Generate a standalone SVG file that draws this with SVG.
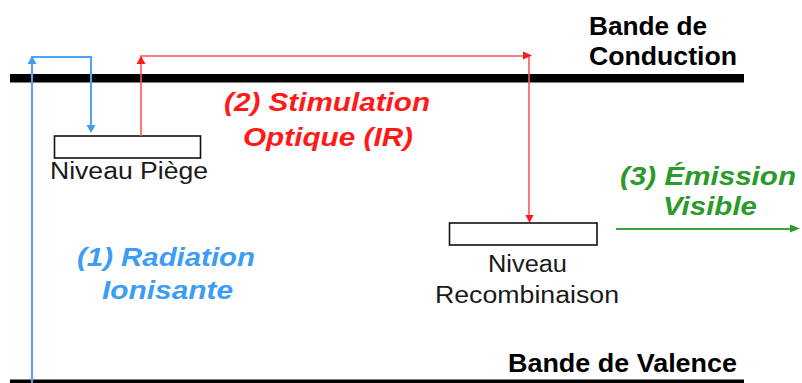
<svg xmlns="http://www.w3.org/2000/svg" width="802" height="383" viewBox="0 0 802 383">
<style>
.lbl{font-family:"Liberation Sans",Arial,sans-serif;fill:#1a1a1a;}
.band{font-family:"Liberation Sans",Arial,sans-serif;font-weight:bold;fill:#000;font-size:25px;}
.step{font-family:"Liberation Sans",Arial,sans-serif;font-weight:bold;font-style:italic;font-size:25px;}
.box{fill:#fff;stroke:#111;stroke-width:1.6;}
.blue{stroke:#4da3ff;stroke-width:2;fill:none;}
.red{stroke:#ff5555;stroke-width:1.6;fill:none;}
.green{stroke:#3aa43a;stroke-width:2;fill:none;}
</style>
<rect width="802" height="383" fill="#fff"/>
<g id="conduction-band">
<rect x="10" y="74" width="734" height="8.5" fill="#000"/>
<text class="band" x="589" y="35" textLength="118" lengthAdjust="spacingAndGlyphs">Bande de</text>
<text class="band" x="589" y="65" textLength="148" lengthAdjust="spacingAndGlyphs">Conduction</text>
</g>
<g id="valence-band">
<rect x="10" y="379.5" width="734" height="8" fill="#000"/>
<text class="band" x="508" y="372" textLength="229" lengthAdjust="spacingAndGlyphs">Bande de Valence</text>
</g>
<g id="niveau-piege">
<rect class="box" x="54.5" y="136" width="146" height="22"/>
<text class="lbl" x="50" y="179" font-size="23" textLength="158" lengthAdjust="spacingAndGlyphs">Niveau Piège</text>
</g>
<g id="niveau-recombinaison">
<rect class="box" x="449.5" y="223" width="147.5" height="22"/>
<text class="lbl" x="488" y="271.5" font-size="23" textLength="79" lengthAdjust="spacingAndGlyphs">Niveau</text>
<text class="lbl" x="435" y="303" font-size="23" textLength="184" lengthAdjust="spacingAndGlyphs">Recombinaison</text>
</g>
<g id="labels">
<text class="step" fill="#3d9cf5" x="77" y="266" textLength="178" lengthAdjust="spacingAndGlyphs">(1) Radiation</text>
<text class="step" fill="#3d9cf5" x="102" y="299" textLength="131" lengthAdjust="spacingAndGlyphs">Ionisante</text>
<text class="step" fill="#ff1a1a" x="224" y="111" textLength="206" lengthAdjust="spacingAndGlyphs">(2) Stimulation</text>
<text class="step" fill="#ff1a1a" x="243" y="146" textLength="170" lengthAdjust="spacingAndGlyphs">Optique (IR)</text>
<text class="step" fill="#2a9a2a" x="620" y="185" textLength="176" lengthAdjust="spacingAndGlyphs">(3) Émission</text>
<text class="step" fill="#2a9a2a" x="663" y="215" textLength="94" lengthAdjust="spacingAndGlyphs">Visible</text>
</g>
<g id="connectors">
<polyline class="blue" points="32,383 32,57 91,57 91,127"/>
<polygon fill="#3d9cf5" points="32,56 27.5,64 36.5,64"/>
<polygon fill="#3d9cf5" points="91,133 86.5,125 95.5,125"/>
<polyline class="red" points="141,136 141,56 529,56 529,216"/>
<polygon fill="#ff1a1a" points="141,56 136.5,64 145.5,64"/>
<polygon fill="#ff1a1a" points="532,55.5 523,51.5 523,59.5"/>
<polygon fill="#ff1a1a" points="529.5,223 525.5,215 533.5,215"/>
<line class="green" x1="616" y1="229" x2="792" y2="229"/>
<polygon fill="#2a9a2a" points="800,228.5 790,224.5 790,232.5"/>
</g>
</svg>
